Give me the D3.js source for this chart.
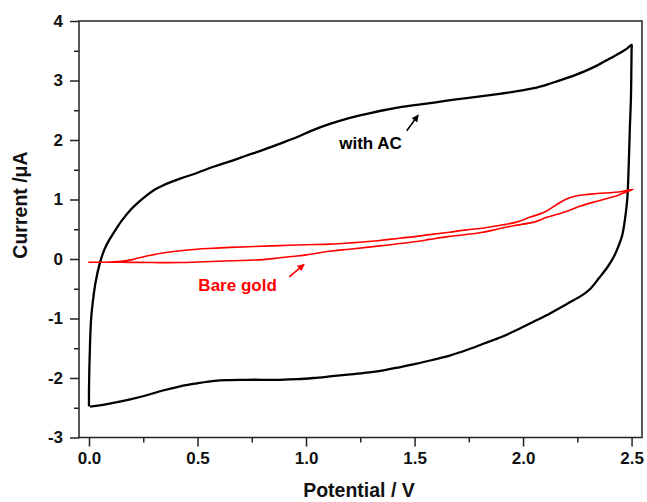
<!DOCTYPE html>
<html>
<head>
<meta charset="utf-8">
<script src="https://cdn.jsdelivr.net/npm/d3@7/dist/d3.min.js"></script>
<style>
  html, body { margin: 0; padding: 0; background: #fff; }
  svg { display: block; }
  text { font-family: "Liberation Sans", Arial, sans-serif; font-weight: bold; }
</style>
</head>
<body>
<svg id="chart" width="647" height="502"></svg>
<script>
// ---- data ----
const xTicks = [0.0, 0.5, 1.0, 1.5, 2.0, 2.5];
const xMinorTicks = [0.25, 0.75, 1.25, 1.75, 2.25];
const yTicks = [-3, -2, -1, 0, 1, 2, 3, 4];
const yMinorTicks = [-2.5, -1.5, -0.5, 0.5, 1.5, 2.5, 3.5];

// "with AC" curve: forward (upper) branch then return (lower) branch
const acPotential = [
  0.000, 0.000, 0.002, 0.005, 0.010, 0.020, 0.030, 0.050, 0.070, 0.090, 0.112, 0.150, 0.190, 0.230, 0.266,
  0.300, 0.343, 0.420, 0.500, 0.573, 0.650, 0.727, 0.800, 0.881, 0.960, 1.035, 1.110, 1.190, 1.270, 1.357,
  1.430, 1.510, 1.590, 1.665, 1.740, 1.820, 1.900, 1.973, 2.050, 2.126, 2.200, 2.280, 2.340, 2.400, 2.450, 2.480, 2.500,
  2.500, 2.499, 2.497, 2.492, 2.487, 2.480, 2.470, 2.457, 2.440, 2.420, 2.390, 2.350, 2.310, 2.280, 2.200, 2.126,
  2.050, 1.973, 1.900, 1.820, 1.740, 1.665, 1.590, 1.510, 1.430, 1.357, 1.280, 1.204, 1.120, 1.035, 0.960,
  0.880, 0.800, 0.727, 0.650, 0.604, 0.550, 0.497, 0.420, 0.340, 0.266, 0.190, 0.112, 0.050, 0.005
];
const acCurrent = [
  -2.48, -2.20, -1.80, -1.40, -1.00, -0.65, -0.40, -0.07, 0.15, 0.30, 0.43, 0.64, 0.82, 0.96, 1.07,
  1.16, 1.24, 1.35, 1.45, 1.55, 1.64, 1.74, 1.83, 1.94, 2.05, 2.17, 2.27, 2.36, 2.43, 2.50,
  2.55, 2.59, 2.63, 2.67, 2.705, 2.74, 2.78, 2.82, 2.87, 2.95, 3.04, 3.15, 3.25, 3.37, 3.47, 3.54, 3.60,
  3.52, 3.20, 2.70, 2.20, 1.60, 1.00, 0.68, 0.40, 0.22, 0.05, -0.13, -0.32, -0.50, -0.59, -0.76, -0.91,
  -1.05, -1.19, -1.31, -1.42, -1.53, -1.62, -1.69, -1.76, -1.82, -1.87, -1.91, -1.94, -1.97, -2.00, -2.02,
  -2.03, -2.03, -2.03, -2.035, -2.04, -2.06, -2.09, -2.14, -2.21, -2.29, -2.36, -2.42, -2.46, -2.48
];

// "Bare gold" curve: forward (upper) branch then return (lower) branch
const goldPotential = [
  -0.003, 0.050, 0.100, 0.150, 0.200, 0.266, 0.340, 0.420, 0.497, 0.570, 0.650, 0.760, 0.880, 1.000, 1.110,
  1.200, 1.340, 1.430, 1.510, 1.570, 1.660, 1.740, 1.820, 1.900, 1.970, 2.030, 2.100, 2.157, 2.200, 2.234,
  2.280, 2.340, 2.450, 2.507,
  2.450, 2.420, 2.340, 2.265, 2.200, 2.110, 2.050, 1.957, 1.880, 1.800, 1.660, 1.570, 1.510, 1.340, 1.200,
  1.110, 1.000, 0.958, 0.880, 0.800, 0.650, 0.500, 0.420, 0.300, 0.150, 0.000
];
const goldCurrent = [
  -0.055, -0.055, -0.050, -0.040, -0.010, 0.050, 0.100, 0.140, 0.165, 0.180, 0.195, 0.210, 0.225, 0.240, 0.250,
  0.270, 0.310, 0.350, 0.380, 0.410, 0.450, 0.490, 0.520, 0.570, 0.620, 0.700, 0.790, 0.920, 1.010, 1.050,
  1.080, 1.100, 1.130, 1.170,
  1.090, 1.050, 0.970, 0.890, 0.800, 0.700, 0.620, 0.560, 0.500, 0.440, 0.380, 0.330, 0.295, 0.220, 0.165,
  0.130, 0.070, 0.050, 0.020, -0.010, -0.030, -0.050, -0.060, -0.060, -0.055, -0.055
];

const labels = [
  { text: "with AC", x: 1.153, y: 1.846, color: "#000", ax1: 1.464, ay1: 2.157, ax2: 1.517, ay2: 2.418 },
  { text: "Bare gold", x: 0.504, y: -0.54, color: "#ff0000", ax1: 0.923, ay1: -0.30, ax2: 0.991, ay2: -0.09 }
];

// ---- chart ----
const svg = d3.select("#chart");
const pLeft = 79, pRight = 642, pTop = 21, pBottom = 437.5;

const x = d3.scaleLinear().domain([-0.046, 2.548]).range([pLeft, pRight]);
const y = d3.scaleLinear().domain([-3, 4]).range([pBottom, pTop]);

const axisColor = "#222";

// frame
svg.append("rect")
  .attr("x", pLeft).attr("y", pTop)
  .attr("width", pRight - pLeft).attr("height", pBottom - pTop)
  .attr("fill", "none").attr("stroke", axisColor).attr("stroke-width", 1.5);

// x axis
const gx = svg.append("g").attr("transform", `translate(0,${pBottom})`)
  .call(d3.axisBottom(x).tickValues(xTicks).tickFormat(d3.format(".1f")).tickSizeInner(9).tickSizeOuter(0).tickPadding(5.5));
svg.append("g").attr("transform", `translate(0,${pBottom})`)
  .call(d3.axisBottom(x).tickValues(xMinorTicks).tickFormat("").tickSizeInner(5).tickSizeOuter(0));

// y axis
const gy = svg.append("g").attr("transform", `translate(${pLeft},0)`)
  .call(d3.axisLeft(y).tickValues(yTicks).tickFormat(d3.format("d")).tickSizeInner(9).tickSizeOuter(0).tickPadding(7));
svg.append("g").attr("transform", `translate(${pLeft},0)`)
  .call(d3.axisLeft(y).tickValues(yMinorTicks).tickFormat("").tickSizeInner(5).tickSizeOuter(0));

svg.selectAll(".domain").remove();
svg.selectAll(".tick line").attr("stroke", axisColor).attr("stroke-width", 1.5);
svg.selectAll(".tick text")
  .attr("fill", "#111")
  .style("font-family", '"Liberation Sans", Arial, sans-serif')
  .style("font-weight", "bold")
  .style("font-size", "17px");
gy.selectAll(".tick text").text(d => String(d));

// axis titles
svg.append("text")
  .attr("transform", `translate(26.5,205) rotate(-90)`)
  .attr("text-anchor", "middle")
  .style("font-size", "19.5px").attr("fill", "#111")
  .text("Current /μA");

svg.append("text")
  .attr("x", 359).attr("y", 497)
  .attr("text-anchor", "middle")
  .style("font-size", "19.5px").attr("fill", "#111")
  .text("Potential / V");

// curves
const line = d3.line().x(d => x(d[0])).y(d => y(d[1])).curve(d3.curveCatmullRom.alpha(0.5));
const acData = acPotential.map((v, i) => [v, acCurrent[i]]);
const goldData = goldPotential.map((v, i) => [v, goldCurrent[i]]);

svg.append("path").datum(acData)
  .attr("d", line).attr("fill", "none")
  .attr("stroke", "#000").attr("stroke-width", 2.3).attr("stroke-linejoin", "round");

svg.append("path").datum(goldData)
  .attr("d", line).attr("fill", "none")
  .attr("stroke", "#ff0000").attr("stroke-width", 1.6).attr("stroke-linejoin", "round");

// arrow markers
const defs = svg.append("defs");
labels.forEach((l, i) => {
  defs.append("marker")
    .attr("id", "arrow" + i)
    .attr("viewBox", "0 0 10 10")
    .attr("refX", 9).attr("refY", 5)
    .attr("markerWidth", 4.5).attr("markerHeight", 4.5)
    .attr("markerUnits", "strokeWidth")
    .attr("orient", "auto")
    .append("path").attr("d", "M0,0 L10,5 L0,10 z").attr("fill", l.color);
});

// annotations
labels.forEach((l, i) => {
  svg.append("text")
    .attr("x", x(l.x)).attr("y", y(l.y))
    .style("font-size", "17px").attr("fill", l.color)
    .text(l.text);
  svg.append("line")
    .attr("x1", x(l.ax1)).attr("y1", y(l.ay1))
    .attr("x2", x(l.ax2)).attr("y2", y(l.ay2))
    .attr("stroke", l.color).attr("stroke-width", 1.6)
    .attr("marker-end", `url(#arrow${i})`);
});
</script>
</body>
</html>
